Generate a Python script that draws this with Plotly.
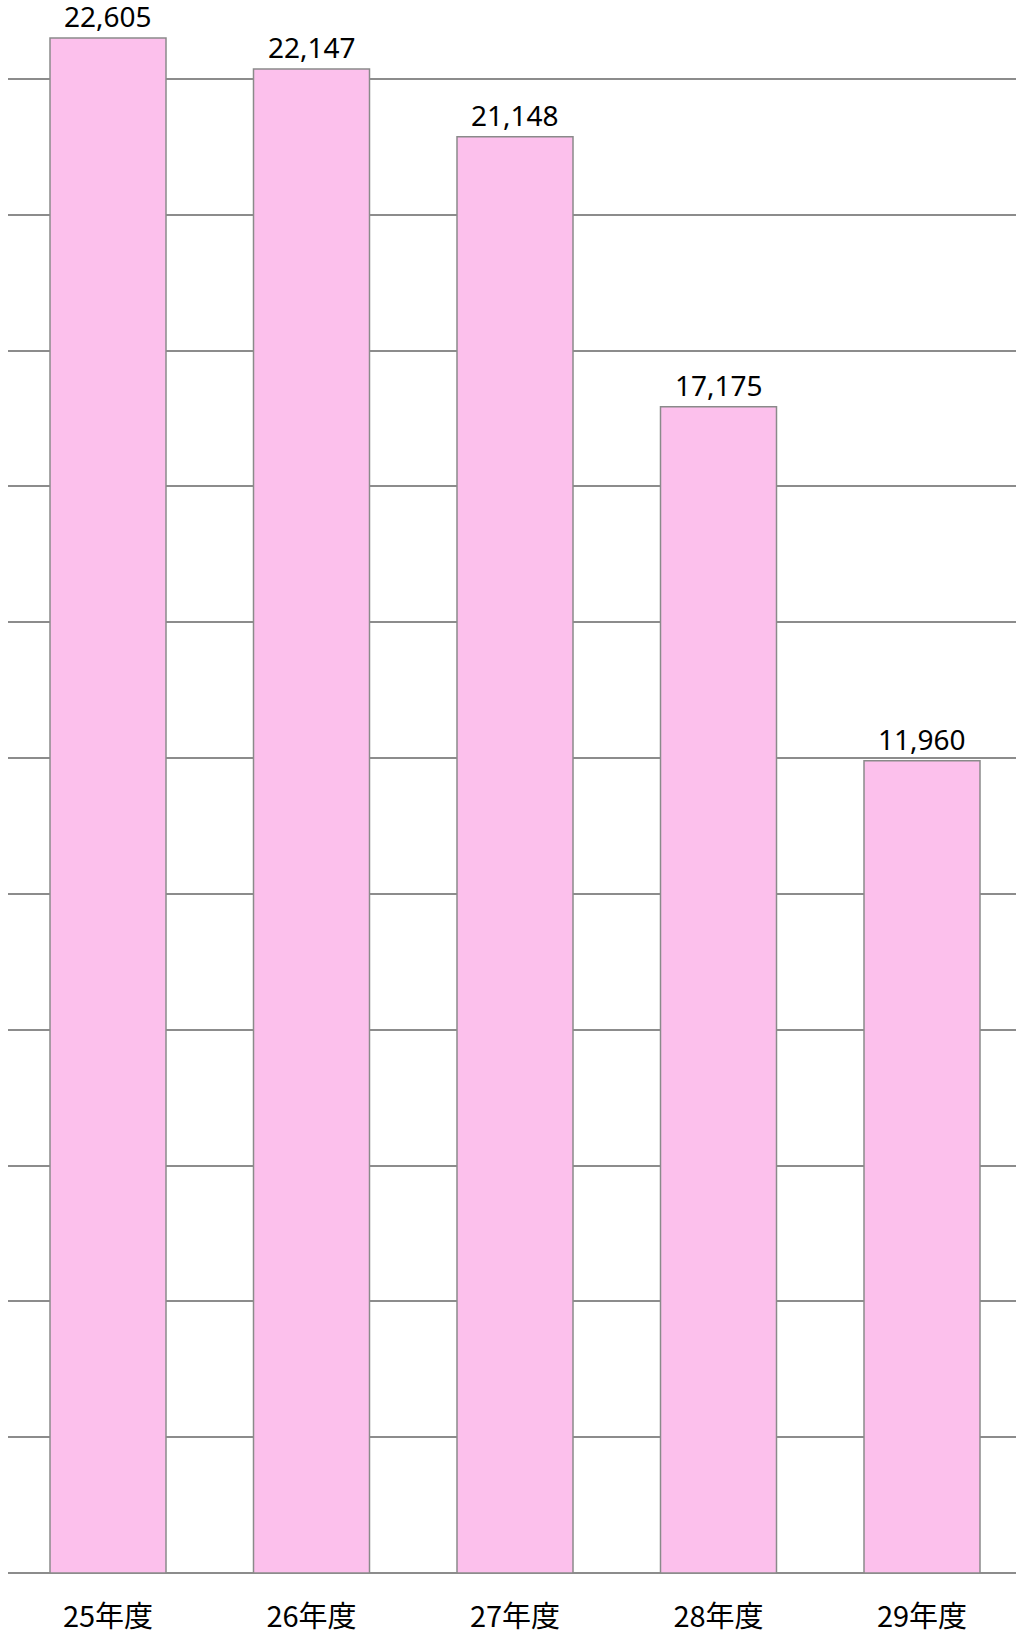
import plotly.graph_objects as go

categories = ["25年度", "26年度", "27年度", "28年度", "29年度"]
values = [22605, 22147, 21148, 17175, 11960]
labels = ["22,605", "22,147", "21,148", "17,175", "11,960"]

xs = list(range(len(categories)))

fig = go.Figure(go.Bar(
    x=xs,
    y=values,
    width=0.57,
    marker=dict(color="#FCC0EC", line=dict(color="#8a8a8a", width=1.5)),
    hoverinfo="skip",
))

for xi, v, lab in zip(xs, values, labels):
    fig.add_annotation(
        x=xi, y=v, text=lab, showarrow=False,
        yanchor="middle", yshift=22,
        font=dict(family="Noto Sans, Liberation Sans, sans-serif", size=28, color="#000000"),
    )

fig.update_layout(
    width=1016, height=1636,
    margin=dict(l=8, r=0, t=0, b=63),
    paper_bgcolor="white", plot_bgcolor="white",
    showlegend=False,
)
fig.update_xaxes(
    tickmode="array",
    tickvals=xs,
    ticktext=categories,
    range=[(8 - 108) / 203.5, (1016 - 108) / 203.5],
    showgrid=False, zeroline=False, showline=False,
    ticks="", ticklabelstandoff=24, automargin=False,
    tickfont=dict(family="Noto Sans CJK JP, Noto Sans, sans-serif", size=29, color="#000000"),
)
fig.update_yaxes(
    range=[0, 23163],
    dtick=2000, tick0=0, automargin=False,
    showgrid=True, gridcolor="#8c8c8c", gridwidth=1.5,
    zeroline=True, zerolinecolor="#8c8c8c", zerolinewidth=1.5,
    showticklabels=False, ticks="", showline=False,
)

fig.write_html(
    "out.html",
    config={"displayModeBar": False},
    post_script="document.body.style.margin='0';document.body.style.overflow='hidden';",
)
